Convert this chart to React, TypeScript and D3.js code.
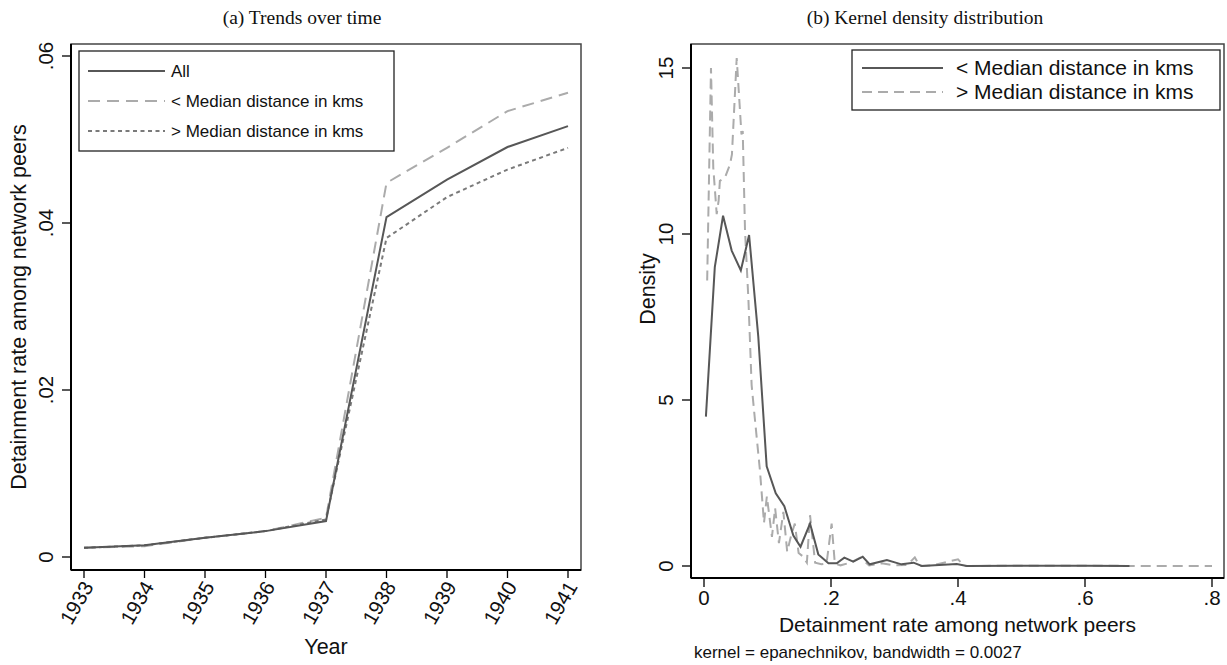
import React from "react";
import * as d3 from "d3";

// ---------- Data: panel (a) ----------
const years = [1933, 1934, 1935, 1936, 1937, 1938, 1939, 1940, 1941];
const allSeries = [0.0011, 0.0014, 0.0023, 0.0031, 0.0043, 0.0407, 0.0452, 0.0491, 0.0516];
const belowMedianSeries = [0.0011, 0.0013, 0.0023, 0.0031, 0.0047, 0.0448, 0.049, 0.0534, 0.0556];
const aboveMedianSeries = [0.0011, 0.0014, 0.0023, 0.0031, 0.0045, 0.0382, 0.0431, 0.0464, 0.049];
const leftYTicks = [0, 0.02, 0.04, 0.06];
const leftYTickLabels = ["0", ".02", ".04", ".06"];

// ---------- Data: panel (b) ----------
const densBelowX = [0.003, 0.017, 0.03, 0.0436, 0.058, 0.071, 0.0855, 0.0987, 0.113, 0.1265, 0.1407, 0.152, 0.167, 0.18, 0.196, 0.209, 0.221, 0.235, 0.25, 0.261, 0.288, 0.311, 0.33, 0.343, 0.398, 0.414, 0.5, 0.6, 0.67];
const densBelowY = [4.5, 9.0, 10.55, 9.5, 8.9, 9.97, 6.9, 3.0, 2.19, 1.8, 0.92, 0.58, 1.28, 0.35, 0.08, 0.08, 0.25, 0.13, 0.28, 0.05, 0.18, 0.05, 0.1, 0.0, 0.06, 0.0, 0.01, 0.01, 0.0];
const densAboveX = [0.005, 0.011, 0.0146, 0.02, 0.023, 0.025, 0.033, 0.041, 0.044, 0.0515, 0.059, 0.061, 0.0646, 0.07, 0.075, 0.079, 0.088, 0.0945, 0.099, 0.107, 0.112, 0.118, 0.125, 0.131, 0.137, 0.143, 0.149, 0.155, 0.162, 0.167, 0.175, 0.185, 0.193, 0.201, 0.206, 0.215, 0.23, 0.246, 0.26, 0.28, 0.3, 0.32, 0.332, 0.34, 0.36, 0.4, 0.41, 0.5, 0.6, 0.7, 0.8];
const densAboveY = [8.6, 15.0, 12.0, 10.6, 11.0, 11.6, 11.7, 12.1, 12.4, 15.3, 13.0, 13.1, 10.1, 8.0, 5.45, 4.65, 2.9, 1.3, 2.1, 0.88, 1.74, 0.69, 1.63, 0.43, 0.9, 1.28, 0.39, 0.3, 0.1, 1.53, 0.1, 0.05, 0.08, 1.28, 0.08, 0.02, 0.1, 0.25, 0.02, 0.08, 0.02, 0.03, 0.26, 0.0, 0.02, 0.2, 0.0, 0.01, 0.01, 0.0, 0.0];
const rightXTicks = [0, 0.2, 0.4, 0.6, 0.8];
const rightXTickLabels = ["0", ".2", ".4", ".6", ".8"];
const rightYTicks = [0, 5, 10, 15];
const rightYTickLabels = ["0", "5", "10", "15"];

const SANS = "'Liberation Sans', Arial, sans-serif";
const SERIF = "'Liberation Serif', 'Times New Roman', serif";
const DARK = "#575757";
const LIGHT = "#ababab";
const MID = "#7a7a7a";
const TICK_FS = 20.5;
const TITLE_FS = 21.5;

export default function App() {
  // Panel (a) layout
  const aL = 71, aR = 581, aT = 44, aB = 570;
  const xA = d3.scaleLinear().domain([1933, 1941]).range([84, 568]);
  const yA = d3.scaleLinear().domain([0, 0.06]).range([557, 56]);
  const lineA = (vals: number[]) =>
    d3.line<number>().x((_, i) => xA(years[i])).y((v) => yA(v))(vals) || "";

  // Panel (b) layout
  const bL = 691, bR = 1224, bT = 44, bB = 578;
  const xB = d3.scaleLinear().domain([0, 0.8]).range([704, 1212]);
  const yB = d3.scaleLinear().domain([0, 15]).range([566, 68]);
  const lineB = (xs: number[], ys: number[]) =>
    d3.line<number>().x((v) => xB(v)).y((_, i) => yB(ys[i]))(xs) || "";

  return (
    <svg width={1227} height={665} style={{ position: "absolute", left: 0, top: 0, background: "#fff" }}>
      <rect x={0} y={0} width={1227} height={665} fill="#fff" />
      {/* Titles */}
      <text x={302} y={24} textAnchor="middle" fontFamily={SERIF} fontSize={19.5} fill="#111">(a) Trends over time</text>
      <text x={925} y={24} textAnchor="middle" fontFamily={SERIF} fontSize={19.5} fill="#111">(b) Kernel density distribution</text>

      {/* ---------- Panel (a) ---------- */}
      <rect x={aL} y={aT} width={aR - aL} height={aB - aT} fill="none" stroke="#444" strokeWidth={1.5} />
      <line x1={aL} x2={aL} y1={aT} y2={aB} stroke="#000" strokeWidth={2} />
      <line x1={aL} x2={aR} y1={aB} y2={aB} stroke="#000" strokeWidth={2} />
      {leftYTicks.map((t, i) => (
        <g key={"ly" + i}>
          <line x1={aL - 9} x2={aL} y1={yA(t)} y2={yA(t)} stroke="#000" strokeWidth={1.3} />
          <text transform={`translate(${aL - 18},${yA(t)}) rotate(-90)`} textAnchor="middle" fontFamily={SANS} fontSize={TICK_FS} fill="#111">{leftYTickLabels[i]}</text>
        </g>
      ))}
      {years.map((yr) => (
        <g key={"lx" + yr}>
          <line x1={xA(yr)} x2={xA(yr)} y1={aB} y2={aB + 8} stroke="#000" strokeWidth={1.3} />
          <text transform={`translate(${xA(yr) + 4},${aB + 13}) rotate(-60)`} textAnchor="end" dy="0.35em" fontFamily={SANS} fontSize={TICK_FS} fill="#111">{yr}</text>
        </g>
      ))}
      <text x={326} y={654} textAnchor="middle" fontFamily={SANS} fontSize={TITLE_FS} fill="#111">Year</text>
      <text transform={`translate(26,${(aT + aB) / 2}) rotate(-90)`} textAnchor="middle" fontFamily={SANS} fontSize={TITLE_FS} fill="#111">Detainment rate among network peers</text>

      <path d={lineA(belowMedianSeries)} fill="none" stroke={LIGHT} strokeWidth={2} strokeDasharray="12,7" />
      <path d={lineA(aboveMedianSeries)} fill="none" stroke={MID} strokeWidth={2} strokeDasharray="4,3.5" />
      <path d={lineA(allSeries)} fill="none" stroke={DARK} strokeWidth={2} />

      {/* legend (a) */}
      <rect x={79} y={51} width={315} height={100} fill="#fff" stroke="#222" strokeWidth={1.3} />
      <line x1={88} x2={165} y1={71} y2={71} stroke={DARK} strokeWidth={2} />
      <line x1={88} x2={165} y1={101} y2={101} stroke={LIGHT} strokeWidth={2} strokeDasharray="12,7" />
      <line x1={88} x2={165} y1={131} y2={131} stroke={MID} strokeWidth={2} strokeDasharray="4,3.5" />
      <text x={171} y={71} dy="0.35em" fontFamily={SANS} fontSize={17} fill="#111">All</text>
      <text x={171} y={101} dy="0.35em" fontFamily={SANS} fontSize={17} fill="#111">{"< Median distance in kms"}</text>
      <text x={171} y={131} dy="0.35em" fontFamily={SANS} fontSize={17} fill="#111">{"> Median distance in kms"}</text>

      {/* ---------- Panel (b) ---------- */}
      <rect x={bL} y={bT} width={bR - bL} height={bB - bT} fill="none" stroke="#444" strokeWidth={1.5} />
      <line x1={bL} x2={bL} y1={bT} y2={bB} stroke="#000" strokeWidth={2} />
      <line x1={bL} x2={bR} y1={bB} y2={bB} stroke="#000" strokeWidth={2} />
      {rightYTicks.map((t, i) => (
        <g key={"ry" + i}>
          <line x1={bL - 9} x2={bL} y1={yB(t)} y2={yB(t)} stroke="#000" strokeWidth={1.3} />
          <text transform={`translate(${bL - 18},${yB(t)}) rotate(-90)`} textAnchor="middle" fontFamily={SANS} fontSize={TICK_FS} fill="#111">{rightYTickLabels[i]}</text>
        </g>
      ))}
      {rightXTicks.map((t, i) => (
        <g key={"rx" + i}>
          <line x1={xB(t)} x2={xB(t)} y1={bB} y2={bB + 9} stroke="#000" strokeWidth={1.3} />
          <text x={xB(t)} y={bB + 27} textAnchor="middle" fontFamily={SANS} fontSize={TICK_FS} fill="#111">{rightXTickLabels[i]}</text>
        </g>
      ))}
      <text x={(bL + bR) / 2} y={632} textAnchor="middle" fontFamily={SANS} fontSize={21} fill="#111">Detainment rate among network peers</text>
      <text x={694} y={658} fontFamily={SANS} fontSize={17} fill="#111">kernel = epanechnikov, bandwidth = 0.0027</text>
      <text transform={`translate(655,${(bT + bB) / 2 - 22}) rotate(-90)`} textAnchor="middle" fontFamily={SANS} fontSize={TITLE_FS} fill="#111">Density</text>

      <path d={lineB(densAboveX, densAboveY)} fill="none" stroke={LIGHT} strokeWidth={2} strokeDasharray="10,6" />
      <path d={lineB(densBelowX, densBelowY)} fill="none" stroke={DARK} strokeWidth={2} />

      {/* legend (b) */}
      <rect x={852} y={50} width={368} height={60} fill="#fff" stroke="#222" strokeWidth={1.3} />
      <line x1={862} x2={943} y1={68} y2={68} stroke={DARK} strokeWidth={2} />
      <line x1={862} x2={943} y1={92} y2={92} stroke={LIGHT} strokeWidth={2} strokeDasharray="10,6" />
      <text x={956} y={68} dy="0.35em" fontFamily={SANS} fontSize={21} fill="#111">{"< Median distance in kms"}</text>
      <text x={956} y={92} dy="0.35em" fontFamily={SANS} fontSize={21} fill="#111">{"> Median distance in kms"}</text>
    </svg>
  );
}
